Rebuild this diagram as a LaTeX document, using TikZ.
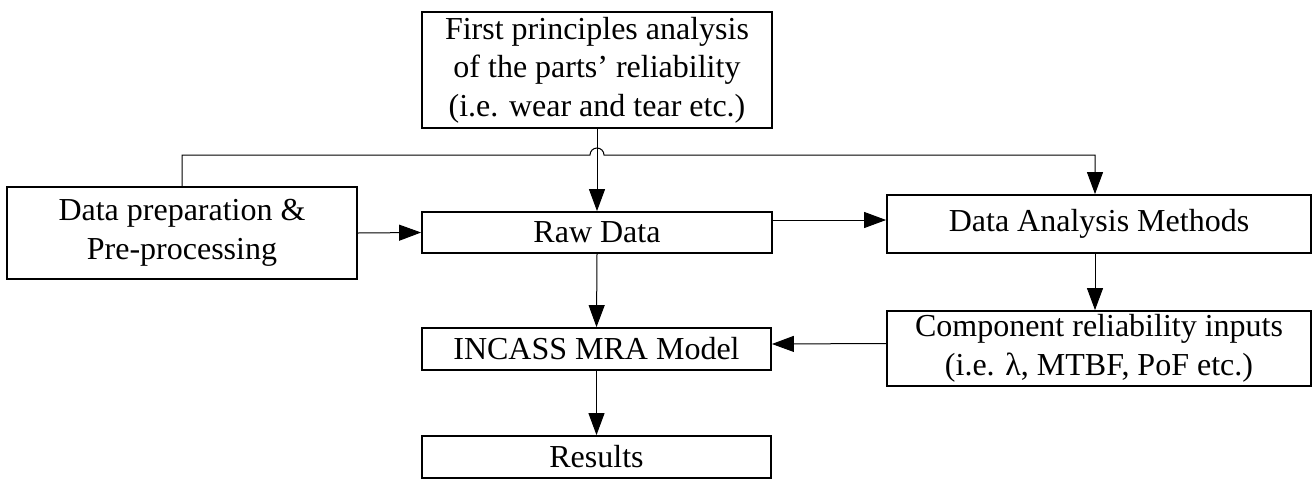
\documentclass[tikz,border=0pt]{standalone}
\usepackage{fontspec}
\setmainfont{Liberation Serif}
\usetikzlibrary{arrows.meta}
\begin{document}
\begin{tikzpicture}[x=1pt,y=-1pt,
  box/.style={draw=black,line width=1.8pt,rectangle,inner sep=0pt,align=center,
    font=\fontsize{32}{38.5}\selectfont},
  conn/.style={draw=black,line width=1pt,-{Triangle[length=22pt,width=16pt]}},
  plain/.style={draw=black,line width=1pt}]
\useasboundingbox (0,0) rectangle (1315,480);
\node[box,minimum width=350pt,minimum height=116pt] (top) at (597,70)
  {First principles analysis\\of the parts’ reliability\\(i.e. wear and tear etc.)};
\node[box,minimum width=350pt,minimum height=92pt] (left) at (182,233)
  {Data preparation \&\\Pre-processing};
\node[box,minimum width=350pt,minimum height=41pt] (raw) at (597,232.5) {Raw Data};
\node[box,minimum width=424pt,minimum height=58pt] (dam) at (1099,224) {Data Analysis Methods};
\node[box,minimum width=424pt,minimum height=75pt] (cri) at (1099,348.5)
  {Component reliability inputs\\(i.e. λ, MTBF, PoF etc.)};
\node[box,minimum width=349pt,minimum height=42pt] (inc) at (596.5,349) {INCASS MRA Model};
\node[box,minimum width=349pt,minimum height=42pt] (res) at (596.5,457) {Results};
\coordinate (hopL) at (590,155);
\draw[conn] (left.north) |- (hopL) arc[start angle=180,end angle=0,radius=7pt] -| ([xshift=-4pt]dam.north);
\draw[conn] (top.south) -- (raw.north);
\draw[conn] (left.east) -- (raw.west);
\draw[conn] ([yshift=12.5pt]raw.east) -- ([yshift=4pt]dam.west);
\draw[conn] ([xshift=-4pt]dam.south) -- ([xshift=-4pt]cri.north);
\draw[conn] ([yshift=5pt]cri.west) -- ([yshift=5pt]inc.east);
\draw[conn] (raw.south) -- (inc.north);
\draw[conn] (inc.south) -- (res.north);
\end{tikzpicture}
\end{document}
